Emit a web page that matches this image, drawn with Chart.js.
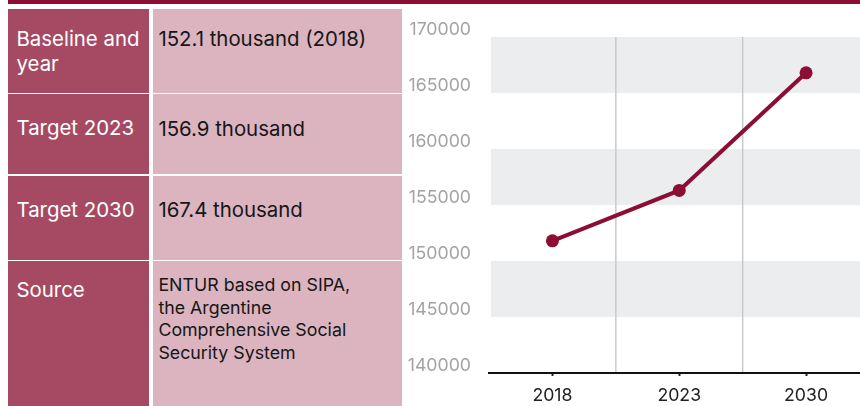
<!DOCTYPE html>
<html>
<head>
<meta charset="utf-8">
<script src="https://cdn.jsdelivr.net/npm/chart.js@4.4.0/dist/chart.umd.min.js"></script>
<style>
html,body{margin:0;padding:0;width:860px;height:406px;overflow:hidden;background:#fff;font-family:Inter,Roboto,sans-serif;}
#topbar{position:absolute;left:8px;top:0;width:852px;height:4px;background:#8c0e34;}
.cell{position:absolute;box-sizing:border-box;white-space:pre-line;}
.lab{left:8px;width:141px;background:#a64a63;color:#fff;font-size:20.4px;line-height:21px;padding-left:8.5px;}
.val{left:153px;width:249px;background:#dbb4c0;color:#161616;font-size:20.4px;line-height:21px;padding-left:5.4px;}
.lab.two{line-height:25px;}
.val.small{font-size:17.8px;line-height:22.7px;}
#chartBox{position:absolute;left:405px;top:0;width:471px;height:406px;}
</style>
</head>
<body>
<div id="topbar"></div>
<div id="table"></div>
<div id="chartBox"><canvas id="c"></canvas></div>
<script>
// ---- data ----
const rowLabels = ['Baseline and\nyear', 'Target 2023', 'Target 2030', 'Source'];
const rowValues = ['152.1 thousand (2018)', '156.9 thousand', '167.4 thousand',
  'ENTUR based on SIPA,\nthe Argentine\nComprehensive Social\nSecurity System'];
const categories = ['2018', '2023', '2030'];
const seriesValues = [151800, 156300, 166800];
const yTickValues = [140000, 145000, 150000, 155000, 160000, 165000, 170000];

// ---- table layout (positions only) ----
const rowTops = [9, 94, 176, 261];
const rowHeights = [84, 80, 84, 145];
const labelPadTop = [16.8, 22.9, 23.4, 17.6];
const valuePadTop = [18.8, 23.5, 23.4, 12.9];

const table = document.getElementById('table');
rowLabels.forEach((txt, i) => {
  const l = document.createElement('div');
  l.className = 'cell lab' + (i === 0 ? ' two' : '');
  l.style.top = rowTops[i] + 'px';
  l.style.height = rowHeights[i] + 'px';
  l.style.paddingTop = labelPadTop[i] + 'px';
  l.textContent = txt;
  table.appendChild(l);
  const v = document.createElement('div');
  v.className = 'cell val' + (i === 3 ? ' small' : '');
  v.style.top = rowTops[i] + 'px';
  v.style.height = rowHeights[i] + 'px';
  v.style.paddingTop = valuePadTop[i] + 'px';
  v.textContent = rowValues[i];
  table.appendChild(v);
});

// ---- chart ----
Chart.defaults.font.family = 'Inter, Roboto, sans-serif';

const backdrop = {
  id: 'backdrop',
  beforeDraw(chart) {
    const {ctx, chartArea: a, scales: {x, y}} = chart;
    ctx.save();
    ctx.fillStyle = '#ecedef';
    const t = y.ticks;
    for (let i = 1; i < t.length - 1; i += 2) {
      const top = y.getPixelForValue(t[i + 1].value);
      const bot = y.getPixelForValue(t[i].value);
      ctx.fillRect(a.left + 2, top, a.right - a.left - 2, bot - top);
    }
    ctx.strokeStyle = '#c9c9c9';
    ctx.lineWidth = 1.5;
    for (let i = 0; i < x.ticks.length - 1; i++) {
      const px = (x.getPixelForTick(i) + x.getPixelForTick(i + 1)) / 2;
      ctx.beginPath();
      ctx.moveTo(px, a.top);
      ctx.lineTo(px, a.bottom);
      ctx.stroke();
    }
    ctx.restore();
  }
};

new Chart(document.getElementById('c'), {
  type: 'line',
  data: {
    labels: categories,
    datasets: [{
      data: seriesValues,
      borderColor: '#8c0e34',
      backgroundColor: '#8c0e34',
      pointBackgroundColor: '#8c0e34',
      pointBorderColor: '#8c0e34',
      borderWidth: 4,
      pointRadius: 6.5,
      pointBorderWidth: 0,
      tension: 0,
      clip: false
    }]
  },
  options: {
    responsive: true,
    maintainAspectRatio: false,
    animation: false,
    events: [],
    layout: {padding: {top: 37, bottom: 2, left: 0, right: 0}},
    plugins: {legend: {display: false}, tooltip: {enabled: false}},
    scales: {
      x: {
        offset: true,
        afterFit: s => { s.height = 31; },
        grid: {display: true, drawOnChartArea: false, drawTicks: true, tickLength: 3, tickWidth: 2, tickColor: '#222', offset: false},
        border: {display: true, color: '#111', width: 2},
        ticks: {color: '#222', font: {size: 17.7}, padding: 9, maxRotation: 0}
      },
      y: {
        min: yTickValues[0],
        max: yTickValues[yTickValues.length - 1],
        afterBuildTicks: s => { s.ticks = yTickValues.map(v => ({value: v})); },
        afterFit: s => { s.width = 84; },
        grid: {display: false, drawTicks: false},
        border: {display: false},
        ticks: {color: '#a3a3a3', font: {size: 17.7}, padding: 18, labelOffset: -7, callback: v => String(v)}
      }
    }
  },
  plugins: [backdrop]
});
</script>
</body>
</html>
